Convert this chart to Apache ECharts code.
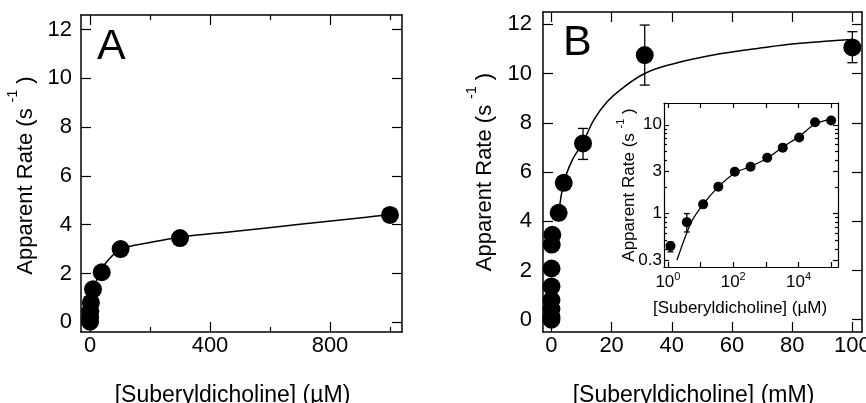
<!DOCTYPE html>
<html><head><meta charset="utf-8">
<script src="https://cdn.jsdelivr.net/npm/echarts@6/dist/echarts.min.js"></script>
<style>html,body{margin:0;padding:0;background:#fff}#c{width:866px;height:403px}</style>
</head><body><div id="c"></div>
<script>
// ---------- Panel A (µM) ----------
const concA = [0.1, 0.3, 1, 3, 10, 39, 102, 300, 1000];
const rateA = [0.02, 0.2, 0.45, 0.8, 1.35, 2.05, 3.0, 3.45, 4.4];
const fitA_x = [10, 17, 33, 67, 102, 200, 300, 478, 700, 922, 1000];
const fitA_y = [1.35, 1.54, 2.08, 2.63, 3.0, 3.27, 3.49, 3.72, 4.02, 4.31, 4.41];
const ticksA_x_major = [0, 400, 800];
const ticksA_x_minor = [200, 600, 1000];
const ticksA_y = [0, 2, 4, 6, 8, 10, 12];
// ---------- Panel B (mM) ----------
const concB = [0.0001, 0.0003, 0.001, 0.003, 0.01, 0.033, 0.1, 0.3, 2.4, 4.1, 10.5, 31, 100];
const rateB = [0.0, 0.1, 0.43, 0.8, 1.35, 2.08, 3.05, 3.45, 4.34, 5.56, 7.16, 10.75, 11.06];
const errB_x = [10.5, 31, 100];
const errB_lo = [6.51, 9.53, 10.44];
const errB_hi = [7.77, 11.97, 11.7];
const fitB_x = [2.4, 4.1, 7, 10.5, 14, 18.5, 23, 31, 40, 56, 72, 80, 90, 100];
const fitB_y = [4.25, 5.56, 6.5, 7.2, 8.1, 8.85, 9.35, 10.0, 10.38, 10.8, 11.08, 11.2, 11.3, 11.38];
const ticksB_x = [0, 20, 40, 60, 80, 100];
const ticksB_y = [0, 2, 4, 6, 8, 10, 12];
// ---------- Inset (µM, log-log) ----------
const concI = [1.2, 3.8, 12, 35, 112, 340, 1100, 3300, 10500, 32000, 100000];
const rateI = [0.43, 0.80, 1.27, 2.0, 2.96, 3.37, 4.26, 5.53, 7.18, 10.7, 11.2];
const errI_x = [1.2, 3.8];
const errI_lo = [0.37, 0.62];
const errI_hi = [0.48, 1.0];
const fitI_x = [1.9, 5.2, 12, 35, 110, 340, 1100, 3300, 10500, 32000, 100000];
const fitI_y = [0.30, 0.80, 1.27, 2.0, 2.85, 3.4, 4.2, 5.6, 7.4, 10.2, 11.6];
const labelsI_x = [1, 100, 10000];
const ticksI_x = [1, 10, 100, 1000, 10000, 100000];
const labelsI_y = [0.3, 1, 3, 10];
const ticksI_y_minor = [0.4, 0.5, 0.6, 0.7, 0.8, 0.9, 2, 4, 5, 6, 7, 8, 9];

const FF = '"Liberation Sans", Arial, Helvetica, sans-serif';
const BLK = '#000';

function zip(a, b) { return a.map((v, i) => [v, b[i]]); }
function zip3(a, b, c) { return a.map((v, i) => [v, b[i], c[i]]); }

function axis(o) {
  return {
    type: o.type || 'value',
    gridIndex: o.grid,
    position: o.pos,
    min: o.min, max: o.max,
    logBase: 10,
    axisLine: { show: o.line !== false, onZero: false, lineStyle: { color: BLK, width: o.lw || 1.5 } },
    splitLine: { show: false },
    axisTick: { show: true, inside: true, length: o.tl || 10, customValues: o.ticks,
      lineStyle: { color: BLK, width: o.tw || 1.2 } },
    axisLabel: o.labels ? { show: true, customValues: o.labels, margin: o.margin, color: BLK,
      fontFamily: FF, fontSize: o.fs || 22, formatter: o.fmt, rich: o.rich } : { show: false },
    name: o.name, nameLocation: 'middle', nameGap: o.nameGap, nameMoveOverlap: false,
    nameTextStyle: o.name ? Object.assign({ color: BLK, fontFamily: FF, fontSize: o.nfs || o.fs || 22 }, o.nts || {}) : undefined,
    z: 5
  };
}

const supRich = { sup: { fontSize: 14, fontFamily: FF, color: BLK, padding: [0, 0, 26, 0] } };
const supRichI = { sup: { fontSize: 11, fontFamily: FF, color: BLK, padding: [0, 0, 18, 0] } };
const supRichL = { sup: { fontSize: 11, fontFamily: FF, color: BLK, padding: [0, 0, 12, 0] } };

function errRender(w) {
  return function (params, api) {
    const x = api.value(0), lo = api.value(1), hi = api.value(2);
    const a = api.coord([x, lo]), b = api.coord([x, hi]);
    const st = { stroke: BLK, lineWidth: 1.3 };
    return { type: 'group', children: [
      { type: 'line', shape: { x1: a[0], y1: a[1], x2: b[0], y2: b[1] }, style: st },
      { type: 'line', shape: { x1: a[0] - w, y1: a[1], x2: a[0] + w, y2: a[1] }, style: st },
      { type: 'line', shape: { x1: b[0] - w, y1: b[1], x2: b[0] + w, y2: b[1] }, style: st }
    ] };
  };
}

const dot = { color: BLK, opacity: 1 };

const option = {
  animation: false,
  backgroundColor: '#fff',
  grid: [
    { left: 81, top: 15, width: 321, height: 317, outerBoundsMode: 'none', containLabel: false },
    { left: 543, top: 12, width: 319, height: 320, outerBoundsMode: 'none', containLabel: false },
    { left: 664, top: 103, width: 174, height: 164, outerBoundsMode: 'none', containLabel: false,
      show: true, backgroundColor: '#fff', borderWidth: 0, z: 3 }
  ],
  xAxis: [
    axis({ grid: 0, pos: 'bottom', min: -30, max: 1040, ticks: ticksA_x_major, labels: ticksA_x_major, margin: 3,
      name: '[Suberyldicholine] (µM)', nfs: 23, nameGap: 52, nts: { padding: [0, 18, 0, 0] } }),
    axis({ grid: 0, pos: 'bottom', min: -30, max: 1040, ticks: ticksA_x_minor, tl: 5, line: false }),
    axis({ grid: 0, pos: 'top', min: -30, max: 1040, ticks: ticksA_x_major }),
    axis({ grid: 0, pos: 'top', min: -30, max: 1040, ticks: ticksA_x_minor, tl: 5, line: false }),
    axis({ grid: 1, pos: 'bottom', min: -2.8, max: 103.2, ticks: ticksB_x, labels: ticksB_x, margin: 3,
      name: '[Suberyldicholine] (mM)', nfs: 23, nameGap: 52, nts: { padding: [0, 18, 0, 0] } }),
    axis({ grid: 1, pos: 'top', min: -2.8, max: 103.2, ticks: ticksB_x }),
    axis({ grid: 2, pos: 'bottom', type: 'log', min: 0.76, max: 162000, ticks: ticksI_x, labels: labelsI_x,
      tl: 5, lw: 1.2, fs: 17, margin: 4, fmt: v => '10{sup|' + Math.round(Math.log10(v)) + '}', rich: supRichL,
      name: '[Suberyldicholine] (µM)', nameGap: 33, nts: { padding: [0, 22, 0, 0] } }),
    axis({ grid: 2, pos: 'top', type: 'log', min: 0.76, max: 162000, ticks: ticksI_x, tl: 5, lw: 1.2 })
  ],
  yAxis: [
    axis({ grid: 0, pos: 'left', min: -0.4, max: 12.6, ticks: ticksA_y, labels: ticksA_y, margin: 9,
      name: 'Apparent Rate (s {sup|-1} )', nameGap: 35, nts: { rich: supRich, padding: [0, 4, 0, 0] } }),
    axis({ grid: 0, pos: 'right', min: -0.4, max: 12.6, ticks: ticksA_y }),
    axis({ grid: 1, pos: 'left', min: -0.5, max: 12.5, ticks: ticksB_y, labels: ticksB_y, margin: 11,
      name: 'Apparent Rate (s {sup|-1} )', nameGap: 38, nts: { rich: supRich } }),
    axis({ grid: 1, pos: 'right', min: -0.5, max: 12.5, ticks: ticksB_y }),
    axis({ grid: 2, pos: 'left', type: 'log', min: 0.25, max: 17.6, ticks: labelsI_y, labels: labelsI_y,
      tl: 5, lw: 1.2, fs: 17, margin: 2,
      name: 'Apparent Rate (s {sup|-1} )', nameGap: 20, nts: { rich: supRichI } }),
    axis({ grid: 2, pos: 'left', type: 'log', min: 0.25, max: 17.6, ticks: ticksI_y_minor, tl: 3, lw: 1.2, line: false }),
    axis({ grid: 2, pos: 'right', type: 'log', min: 0.25, max: 17.6, ticks: labelsI_y, tl: 5, lw: 1.2 }),
    axis({ grid: 2, pos: 'right', type: 'log', min: 0.25, max: 17.6, ticks: ticksI_y_minor, tl: 3, lw: 1.2, line: false })
  ],
  graphic: [
    { type: 'text', left: 97, top: 26, z: 10, style: { text: 'A', font: '43px ' + FF, fill: BLK } },
    { type: 'text', left: 563, top: 22, z: 10, style: { text: 'B', font: '43px ' + FF, fill: BLK } }
  ],
  series: [
    { type: 'line', xAxisIndex: 0, yAxisIndex: 0, data: zip(fitA_x, fitA_y), showSymbol: false, smooth: 0.4,
      lineStyle: { color: BLK, width: 1.5 }, z: 2 },
    { type: 'scatter', xAxisIndex: 0, yAxisIndex: 0, data: zip(concA, rateA), symbolSize: 18,
      itemStyle: dot, z: 3 },
    { type: 'line', xAxisIndex: 4, yAxisIndex: 2, data: zip(fitB_x, fitB_y), showSymbol: false, smooth: 0.4,
      lineStyle: { color: BLK, width: 1.5 }, z: 2 },
    { type: 'custom', xAxisIndex: 4, yAxisIndex: 2, data: zip3(errB_x, errB_lo, errB_hi),
      encode: { x: 0, y: [1, 2] }, renderItem: errRender(5), z: 3 },
    { type: 'scatter', xAxisIndex: 4, yAxisIndex: 2, data: zip(concB, rateB), symbolSize: 18,
      itemStyle: dot, z: 4 },
    { type: 'line', xAxisIndex: 6, yAxisIndex: 4, data: zip(fitI_x, fitI_y), showSymbol: false, smooth: 0.3,
      lineStyle: { color: BLK, width: 1.3 }, z: 6 },
    { type: 'custom', xAxisIndex: 6, yAxisIndex: 4, data: zip3(errI_x, errI_lo, errI_hi),
      encode: { x: 0, y: [1, 2] }, renderItem: errRender(3), z: 6 },
    { type: 'scatter', xAxisIndex: 6, yAxisIndex: 4, data: zip(concI, rateI), symbolSize: 10,
      itemStyle: dot, z: 7 }
  ]
};

const chart = echarts.init(document.getElementById('c'), null, { renderer: 'canvas' });
chart.setOption(option);
</script>
</body></html>
